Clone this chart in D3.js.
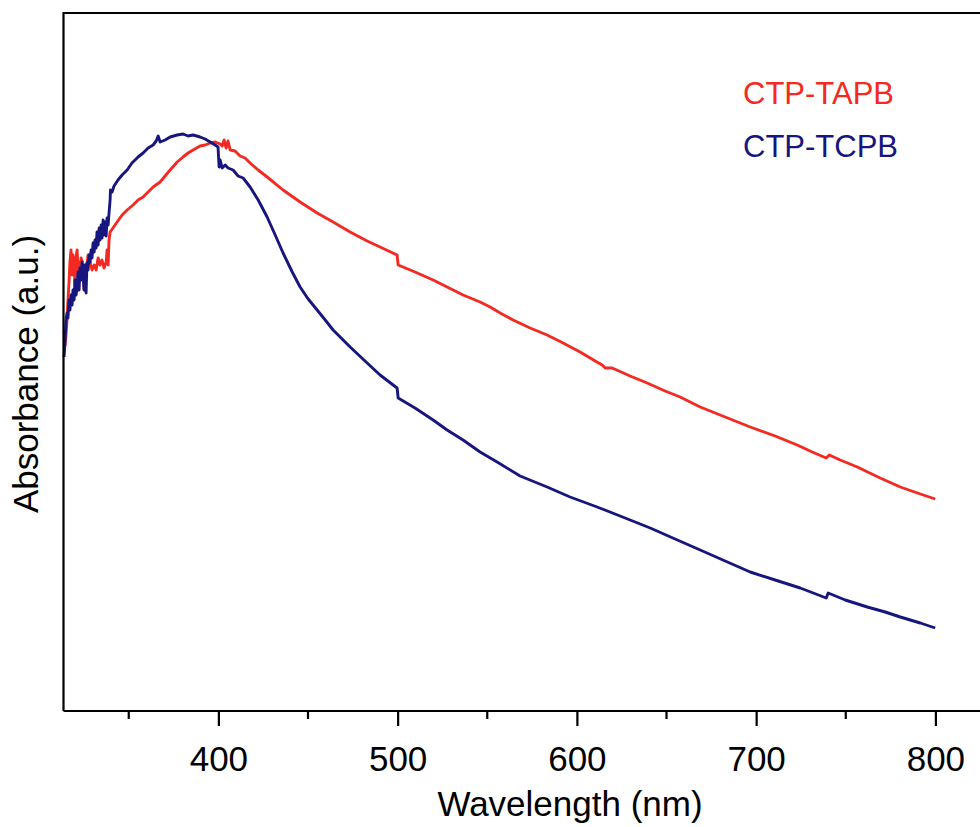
<!DOCTYPE html>
<html>
<head>
<meta charset="utf-8">
<script src="https://cdn.jsdelivr.net/npm/d3@7"></script>
<style>
	body { margin: 0; background: #fff; }
	svg { display: block; font-family: 'Liberation Sans', Arial, sans-serif; }
</style>
</head>
<body>
<svg id="chart" width="980" height="827"></svg>
<script>
'use strict';

// Series names and colours (legend order)
var series_names = ['CTP-TAPB', 'CTP-TCPB'];
var series_colours = ['#f42a22', '#16167e'];

// CTP-TAPB: wavelength (nm) and absorbance (a.u.)
var tapb_wavelength = [313.9, 314.5, 315.0, 315.6, 316.1, 316.7, 317.2, 317.8, 318.4, 318.9, 319.5, 320.0, 320.6, 321.2, 321.7, 322.3, 322.8, 323.4, 324.0, 325.1, 326.2, 327.3, 328.4, 329.5, 330.7, 331.8, 332.9, 334.0, 335.1, 336.2, 337.4, 337.9, 338.5, 339.0, 339.6, 341.2, 343.5, 346.3, 349.1, 352.4, 355.2, 358.0, 360.8, 363.6, 367.5, 370.3, 373.1, 377.0, 380.3, 383.1, 385.9, 389.8, 392.6, 395.4, 398.2, 401.0, 402.1, 403.2, 404.3, 405.4, 406.6, 409.3, 412.1, 414.9, 417.7, 422.2, 427.2, 436.1, 445.6, 455.1, 464.0, 473.5, 483.0, 490.2, 499.7, 500.3, 509.7, 519.8, 527.6, 536.5, 546.0, 551.6, 557.2, 564.4, 573.9, 583.4, 592.3, 601.8, 610.2, 614.1, 615.8, 619.7, 629.7, 639.2, 649.2, 657.6, 668.8, 682.7, 696.7, 710.6, 722.9, 731.3, 739.1, 740.8, 746.9, 756.4, 769.2, 780.4, 791.6, 799.9];
var tapb_absorbance = [3.81, 3.66, 3.76, 3.93, 4.11, 4.29, 4.49, 4.61, 4.36, 4.56, 4.49, 4.26, 4.53, 4.61, 4.41, 4.49, 4.31, 4.53, 4.49, 4.21, 4.38, 4.56, 4.49, 4.41, 4.46, 4.41, 4.53, 4.46, 4.51, 4.43, 4.49, 4.61, 4.46, 4.71, 4.79, 4.83, 4.89, 4.96, 5.01, 5.06, 5.11, 5.14, 5.19, 5.24, 5.29, 5.35, 5.41, 5.49, 5.54, 5.58, 5.61, 5.65, 5.66, 5.68, 5.69, 5.67, 5.65, 5.71, 5.63, 5.70, 5.61, 5.60, 5.55, 5.53, 5.48, 5.41, 5.34, 5.21, 5.09, 4.98, 4.89, 4.79, 4.70, 4.64, 4.56, 4.46, 4.39, 4.31, 4.24, 4.16, 4.09, 4.04, 3.98, 3.91, 3.83, 3.76, 3.68, 3.59, 3.50, 3.46, 3.43, 3.43, 3.35, 3.28, 3.20, 3.14, 3.04, 2.94, 2.84, 2.75, 2.66, 2.59, 2.53, 2.56, 2.51, 2.44, 2.33, 2.24, 2.17, 2.12];

// CTP-TCPB: wavelength (nm) and absorbance (a.u.)
var tcpb_wavelength = [313.9, 314.5, 315.0, 315.6, 316.1, 316.7, 317.2, 317.8, 318.4, 318.9, 319.5, 320.0, 320.6, 321.2, 321.7, 322.3, 322.8, 323.4, 324.0, 324.5, 325.1, 325.6, 326.2, 326.7, 327.3, 327.9, 328.4, 329.0, 329.5, 330.1, 330.7, 331.2, 331.8, 332.3, 332.9, 333.5, 334.0, 334.6, 335.1, 335.7, 336.2, 336.8, 337.4, 337.9, 338.5, 339.0, 339.6, 339.8, 340.7, 341.8, 344.0, 346.3, 349.1, 351.8, 355.2, 358.0, 360.8, 363.6, 365.3, 366.4, 367.5, 370.3, 373.1, 377.0, 380.3, 383.1, 385.9, 389.8, 392.6, 395.4, 398.2, 399.8, 400.4, 401.0, 402.1, 403.8, 405.4, 408.2, 411.0, 413.8, 417.7, 422.2, 427.2, 431.7, 436.1, 441.2, 445.6, 450.1, 455.1, 459.6, 464.0, 473.5, 483.0, 490.2, 499.7, 500.3, 509.7, 519.8, 527.6, 536.5, 546.0, 555.5, 568.3, 583.4, 596.2, 611.3, 626.9, 640.9, 654.8, 668.8, 682.7, 696.7, 710.6, 724.6, 739.1, 740.2, 749.7, 762.0, 772.0, 780.4, 791.6, 799.9];
var tcpb_absorbance = [3.54, 3.71, 3.91, 3.98, 3.93, 4.11, 4.01, 4.16, 4.06, 4.21, 4.11, 4.31, 4.16, 4.24, 4.39, 4.21, 4.43, 4.31, 4.49, 4.36, 4.21, 4.46, 4.18, 4.48, 4.41, 4.56, 4.49, 4.61, 4.53, 4.68, 4.59, 4.71, 4.63, 4.79, 4.66, 4.83, 4.71, 4.86, 4.73, 4.91, 4.76, 4.89, 4.75, 4.93, 4.86, 4.98, 5.11, 5.21, 5.19, 5.25, 5.31, 5.36, 5.41, 5.48, 5.54, 5.58, 5.63, 5.66, 5.70, 5.75, 5.69, 5.71, 5.74, 5.76, 5.77, 5.75, 5.76, 5.74, 5.72, 5.69, 5.66, 5.64, 5.44, 5.51, 5.43, 5.46, 5.43, 5.41, 5.35, 5.33, 5.24, 5.11, 4.94, 4.76, 4.58, 4.39, 4.24, 4.12, 4.01, 3.91, 3.81, 3.64, 3.48, 3.36, 3.23, 3.13, 3.03, 2.91, 2.81, 2.71, 2.59, 2.49, 2.35, 2.24, 2.14, 2.04, 1.93, 1.83, 1.72, 1.61, 1.50, 1.39, 1.31, 1.23, 1.13, 1.18, 1.11, 1.04, 0.99, 0.94, 0.88, 0.83];

// Axis ticks
var major_ticks = [400, 500, 600, 700, 800];
var minor_ticks = [350, 450, 550, 650, 750];


//===============================================================
// Draw the chart
//===============================================================

var svg = d3.select('#chart');

var frame = { left: 63.5, right: 982, top: 13, bottom: 711 };

var x_scale = d3.scaleLinear()
	.domain([313.6, 826])
	.range([frame.left, frame.right]);

var y_scale = d3.scaleLinear()
	.domain([0, 6.98])
	.range([frame.bottom, frame.top]);

// Pair up wavelength/absorbance arrays into point lists
function toPoints(wavelengths, absorbances) {
	return wavelengths.map(function(w, i) {
		return { x: w, y: absorbances[i] };
	});
}

var all_series = [
	toPoints(tapb_wavelength, tapb_absorbance),
	toPoints(tcpb_wavelength, tcpb_absorbance)
];

var line = d3.line()
	.x(function(d) { return x_scale(d.x); })
	.y(function(d) { return y_scale(d.y); });

// Curves (red first, blue drawn on top)
svg.selectAll('path.curve')
	.data(all_series)
	.enter().append('path')
	.attr('class', 'curve')
	.attr('d', line)
	.attr('fill', 'none')
	.attr('stroke', function(d, i) { return series_colours[i]; })
	.attr('stroke-width', 2.9)
	.attr('stroke-linejoin', 'round');

// Frame: left and top spines
svg.append('line')
	.attr('x1', frame.left).attr('x2', frame.left)
	.attr('y1', frame.top - 1).attr('y2', frame.bottom)
	.attr('stroke', '#000').attr('stroke-width', 2.2);
svg.append('line')
	.attr('x1', frame.left).attr('x2', 980)
	.attr('y1', frame.top).attr('y2', frame.top)
	.attr('stroke', '#000').attr('stroke-width', 2.2);

// Bottom axis with major ticks
var x_axis = d3.axisBottom(x_scale)
	.tickValues(major_ticks)
	.tickSize(15)
	.tickSizeOuter(0)
	.tickPadding(20)
	.tickFormat(d3.format('d'));

var axis_g = svg.append('g')
	.attr('transform', 'translate(0,' + frame.bottom + ')')
	.call(x_axis);

axis_g.select('.domain')
	.attr('stroke-width', 2.2)
	.attr('d', 'M' + frame.left + ',0H980');
axis_g.selectAll('.tick line').attr('stroke-width', 2.2);
axis_g.selectAll('.tick text')
	.attr('font-size', 35)
	.attr('font-family', "'Liberation Sans', Arial, sans-serif")
	.attr('fill', '#000');

// Minor ticks
svg.selectAll('line.minor')
	.data(minor_ticks)
	.enter().append('line')
	.attr('class', 'minor')
	.attr('x1', function(d) { return x_scale(d); })
	.attr('x2', function(d) { return x_scale(d); })
	.attr('y1', frame.bottom)
	.attr('y2', frame.bottom + 8)
	.attr('stroke', '#000')
	.attr('stroke-width', 2.2);

// Axis titles
svg.append('text')
	.attr('x', 570)
	.attr('y', 816)
	.attr('text-anchor', 'middle')
	.attr('font-size', 35)
	.text('Wavelength (nm)');

svg.append('text')
	.attr('transform', 'translate(38,374) rotate(-90)')
	.attr('text-anchor', 'middle')
	.attr('font-size', 35)
	.text('Absorbance (a.u.)');

// Legend (text only)
svg.selectAll('text.legend')
	.data(series_names)
	.enter().append('text')
	.attr('class', 'legend')
	.attr('x', 743)
	.attr('y', function(d, i) { return 104 + i * 53; })
	.attr('font-size', 31)
	.attr('fill', function(d, i) { return series_colours[i]; })
	.text(function(d) { return d; });
</script>
</body>
</html>
